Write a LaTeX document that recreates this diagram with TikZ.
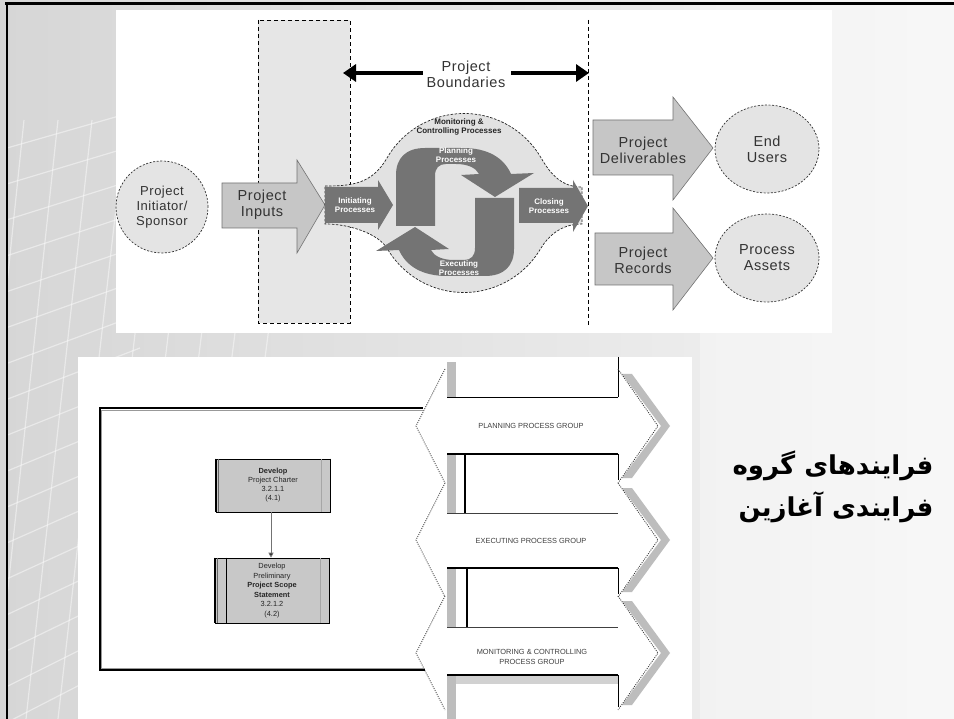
\documentclass[tikz,border=0pt]{standalone}
\usepackage{fontspec}
\setmainfont{Liberation Sans}
\newfontfamily\lblfont[LetterSpace=4]{Liberation Sans}
\newfontfamily\arabicfont[Script=Arabic]{DejaVu Sans}
\TeXXeTstate=1
\usetikzlibrary{arrows.meta,shapes.geometric}

\definecolor{bgleft}{HTML}{D6D6D6}
\definecolor{bgright}{HTML}{F4F4F4}
\definecolor{zonefill}{HTML}{E6E6E6}
\definecolor{lightarrow}{HTML}{C6C6C6}
\definecolor{darkproc}{HTML}{747474}
\definecolor{blobfill}{HTML}{E2E2E2}
\definecolor{circfill}{HTML}{E4E4E4}
\definecolor{boxfill}{HTML}{C8C8C8}
\definecolor{shadowgray}{HTML}{BDBDBD}

\begin{document}
\begin{tikzpicture}[x=1pt,y=-1pt,
  gridline/.style={draw=white,opacity=0.45,line width=1.2pt},
  lightarr/.style={fill=lightarrow,draw=black!55,line width=0.6pt},
  darkarr/.style={fill=darkproc,draw=none},
  dashcirc/.style={draw=black!80,dash pattern=on 2pt off 1.6pt,fill=circfill,line width=0.7pt},
  lbl/.style={font=\lblfont\fontsize{14.5}{16}\selectfont,text=black!80,align=center,inner sep=0pt},
  tinywhite/.style={font=\bfseries\fontsize{8}{8.6}\selectfont,text=white,align=center,inner sep=0pt},
  tinydark/.style={font=\bfseries\fontsize{8}{9.4}\selectfont,text=black!85,align=center,inner sep=0pt},
  procbox/.style={fill=boxfill,draw=black,line width=0.6pt,align=center,inner sep=0pt,
    font=\fontsize{7.4}{9}\selectfont,text=black!85},
  grouplbl/.style={font=\fontsize{7.4}{10}\selectfont,text=black!75,align=center,inner sep=0pt},
  chev/.style={draw=black!80,dash pattern=on 1pt off 1.2pt,line width=0.8pt},
  bound/.style={line width=4pt,-{Triangle[length=13pt,width=17pt]}},
  fa/.style={font=\arabicfont\bfseries\fontsize{26}{30}\selectfont,text=black,inner sep=0pt}
]
\useasboundingbox (0,0) rectangle (954,719);

% slide background with a fading tone
\shade[left color=bgleft,right color=bgright] (0,0) rectangle (954,719);
\fill[white,opacity=0.35] (700,0) rectangle (954,719);

% perspective grid texture on the left margin
\begin{scope}
  \clip (8,6) rectangle (600,719);
  \foreach \i in {0,...,16}
    \draw[gridline] (0,150+36*\i) -- (140,110+34*\i);
  \foreach \j in {0,...,9}
    \draw[gridline] (-70+32*\j,719) -- (-10+34*\j,120);
\end{scope}

% slide border
\draw[line width=3pt] (5,4) -- (954,4);
\draw[line width=2.5pt] (7,4) -- (7,719);

% ================= upper figure =================
\fill[white] (116,10) rectangle (832,333);

% boundary zone
\draw[fill=zonefill,draw=black,dash pattern=on 4pt off 3pt,line width=0.9pt] (258,20) rectangle (350,323);
\draw[black,dash pattern=on 4pt off 3pt,line width=0.9pt] (588,20) -- (588,325);

% project boundaries label and arrows
\node[lbl] (pb) at (466,74) {Project\\Boundaries};
\coordinate (bl) at (343,73);
\coordinate (br) at (589,73);
\draw[bound] ([xshift=-4pt]pb.west |- bl) -- (bl);
\draw[bound] ([xshift=6pt]pb.east |- br) -- (br);

% sponsor
\node[dashcirc,circle,minimum size=92pt,lbl,inner sep=0pt,font=\lblfont\fontsize{13}{15}\selectfont] (spon) at (162,207) {Project\\Initiator/\\Sponsor};

% project inputs arrow
\draw[lightarr] (222,183) -- (297,183) -- (297,160) -- (325,205) -- (297,253) -- (297,228) -- (222,228) -- cycle;
\node[lbl] (inp) at (262,205) {Project\\Inputs};

% process cloud
\draw[fill=blobfill,draw=black!85,dash pattern=on 2.5pt off 1.5pt,line width=0.7pt]
  (325,186) .. controls (352,186) and (372,184) .. (387,158)
  arc[start angle=210,end angle=330,radius=89]
  .. controls (551,175) and (562,187) .. (582,187) -- (582,224)
  .. controls (562,224) and (549,235) .. (541,248)
  arc[start angle=30,end angle=150,radius=89]
  .. controls (379,235) and (352,224) .. (325,224) -- cycle;
\node[tinydark] (mc) at (459,127) {Monitoring \&\\Controlling Processes};

% initiating and closing
\fill[darkarr] (325,187) -- (378,187) -- (378,180) -- (393,205) -- (378,230) -- (378,223) -- (325,223) -- cycle;
\node[tinywhite] (ini) at (355,205) {Initiating\\Processes};
\fill[darkarr] (519,188) -- (573,188) -- (573,180) -- (588,206) -- (573,232) -- (573,223) -- (519,223) -- cycle;
\node[tinywhite] (clo) at (549,206) {Closing\\Processes};

% planning / executing cycle
\def\cyclepath{(396,226) -- (396,175) .. controls (396,158) and (406,148) .. (425,148)
  -- (463,148) .. controls (488,148) and (504,158) .. (511,174) -- (534,173) -- (495,197)
  -- (461,175) -- (479,174) .. controls (476,168) and (468,164) .. (456,164)
  -- (446,164) .. controls (439,164) and (435,168) .. (435,176) -- (435,226) -- cycle}
\fill[darkarr] \cyclepath;
\fill[darkarr,rotate around={180:(455,212)}] \cyclepath;
\node[tinywhite] (pla) at (456,155) {Planning\\Processes};
\node[tinywhite] (exe) at (459,268) {Executing\\Processes};

% outputs
\draw[lightarr] (593,120) -- (673,120) -- (673,97) -- (713,148) -- (673,200) -- (673,175) -- (593,175) -- cycle;
\node[lbl] (del) at (643,150) {Project\\Deliverables};
\draw[lightarr] (595,233) -- (673,233) -- (673,208) -- (713,258) -- (673,310) -- (673,285) -- (595,285) -- cycle;
\node[lbl] (rec) at (643,260) {Project\\Records};
\node[dashcirc,ellipse,minimum width=104pt,minimum height=88pt,lbl] (eu) at (767,149) {End\\Users};
\node[dashcirc,ellipse,minimum width=104pt,minimum height=88pt,lbl] (pa) at (767,258) {Process\\Assets};

% ================= lower figure =================
\fill[white] (78,357) rectangle (692,719);

% group bands
\fill[shadowgray] (447,362) rectangle (456,397);
\draw[line width=0.9pt] (447,397) -- (618,397);
\draw[line width=0.8pt] (618,357) -- (618,397);
\foreach \t/\v in {454/465,568/467}{
  \fill[shadowgray] (447,\t) rectangle (456,\t+59);
  \draw[line width=1.6pt] (447,\t) -- (618,\t);
  \draw[line width=1.3pt] (\v,\t) -- (\v,\t+59);
  \draw[line width=0.8pt] (618,\t) -- (618,\t+26);
  \draw[line width=0.6pt,black!75] (447,\t+59) -- (618,\t+59);
}
\fill[shadowgray] (447,675) rectangle (456,719);
\fill[shadowgray!70] (456,676) rectangle (618,684);
\draw[line width=1.6pt] (447,675) -- (618,675);
\draw[line width=0.8pt] (618,675) -- (618,707);

% double chevrons
\foreach \m in {426,540,653}{
  \fill[shadowgray] (622,\m-52) -- (661,\m) -- (622,\m+52) -- (632,\m+52) -- (670,\m) -- (632,\m-52) -- cycle;
  \fill[white] (445,\m-57) -- (416,\m) -- (445,\m+57) -- (446,\m+57) -- (446,\m-57) -- cycle;
  \draw[chev] (445,\m-57) -- (416,\m) -- (445,\m+57);
  \draw[chev] (618,\m-57) -- (658,\m) -- (618,\m+57);
}
\node[grouplbl] (gpl) at (531,426) {PLANNING PROCESS GROUP};
\node[grouplbl] (gex) at (531,541) {EXECUTING PROCESS GROUP};
\node[grouplbl] (gmc) at (532,657) {MONITORING \& CONTROLLING\\PROCESS GROUP};

% initiating group frame
\draw[line width=0.9pt,black!40] (423,410.4) -- (101.4,410.4) -- (101.4,668.6) -- (425,668.6);
\draw[line width=2pt] (423,408) -- (100,408) -- (100,670) -- (425,670);

% processes
\node[procbox,minimum width=114pt,minimum height=53pt] (b1) at (273,485.5)
  {\textbf{Develop}\\Project Charter\\3.2.1.1\\(4.1)};
\node[procbox,minimum width=114pt,minimum height=65pt,font=\fontsize{7.4}{9.6}\selectfont] (b2) at (272,590.5)
  {Develop\\Preliminary\\\textbf{Project Scope}\\\textbf{Statement}\\3.2.1.2\\(4.2)};
\foreach \b in {b1,b2}{
  \draw[line width=0.6pt,black!60] ([xshift=3pt]\b.north west) -- ([xshift=3pt]\b.south west);
  \draw[line width=0.6pt,black!35] ([xshift=-9pt]\b.north east) -- ([xshift=-9pt]\b.south east);
  \draw[line width=1.4pt] (\b.north west) -- (\b.south west);
  \draw[line width=1.2pt] (\b.north east) -- (\b.south east);
}
\draw[line width=1.2pt] ([xshift=12pt]b2.north west) -- ([xshift=12pt]b2.south west);
\draw[black!55,line width=1pt,-{Triangle[length=5pt,width=5pt,fill=black]}] (b1.south -| 271,0) -- (b2.north -| 271,0);

% title
\node[fa] (t1) at (833,466) {\beginR فرایندهای گروه\endR};
\node[fa] (t2) at (836,507) {\beginR فرایندی آغازین\endR};
\end{tikzpicture}
\end{document}
